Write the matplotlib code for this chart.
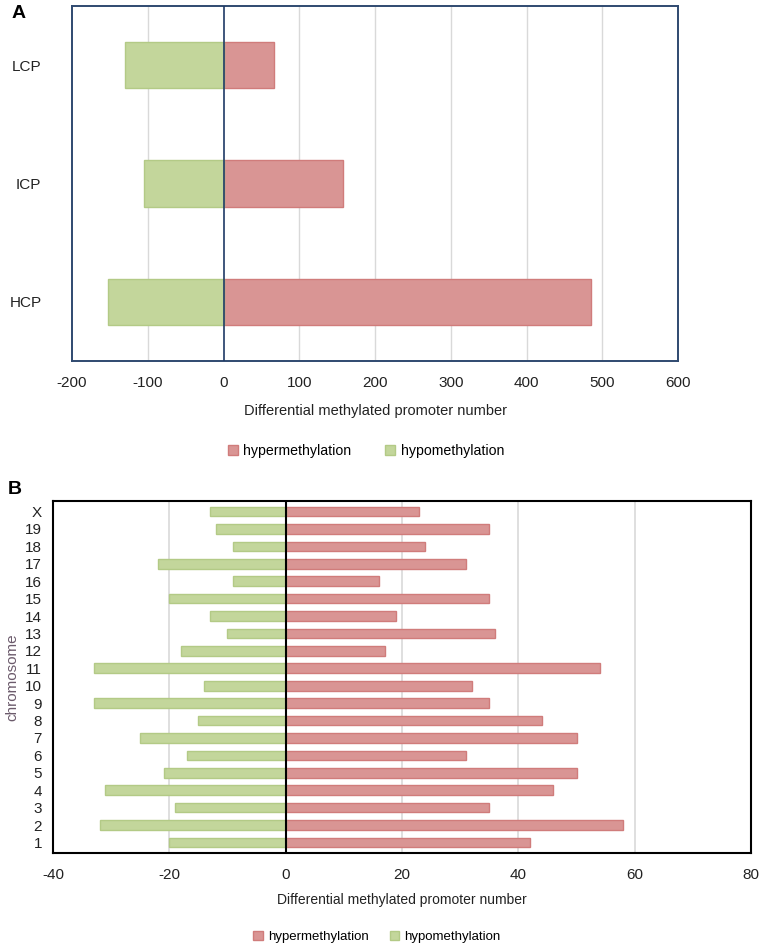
import numpy as np
import matplotlib.pyplot as plt
from matplotlib.patches import Patch

plt.rcParams['font.family'] = ['Liberation Sans', 'DejaVu Sans']
plt.rcParams['axes.unicode_minus'] = False

# panel A data
cpg_classes = ['HCP', 'ICP', 'LCP']
cpg_hyper = [485, 158, 67]
cpg_hypo = [-152, -105, -130]
a_ticks = [-200, -100, 0, 100, 200, 300, 400, 500, 600]

# panel B data
chromosomes = ['1', '2', '3', '4', '5', '6', '7', '8', '9', '10',
               '11', '12', '13', '14', '15', '16', '17', '18', '19', 'X']
chr_hyper = [42, 58, 35, 46, 50, 31, 50, 44, 35, 32,
             54, 17, 36, 19, 35, 16, 31, 24, 35, 23]
chr_hypo = [-20, -32, -19, -31, -21, -17, -25, -15, -33, -14,
            -33, -18, -10, -13, -20, -9, -22, -9, -12, -13]
b_ticks = [-40, -20, 0, 20, 40, 60, 80]

red = '#d99594'
red_edge = '#d07c7b'
green = '#c3d69b'
green_edge = '#b3ca86'
W, H = 765, 949

fig = plt.figure(figsize=(W / 100, H / 100), dpi=100)

# ---- panel A
axA = fig.add_axes([72 / W, 1 - 361 / H, 606 / W, 355 / H])
ya = np.arange(len(cpg_classes))
axA.barh(ya, cpg_hyper, height=0.39, color=red, edgecolor=red_edge, linewidth=1, zorder=3)
axA.barh(ya, cpg_hypo, height=0.39, color=green, edgecolor=green_edge, linewidth=1, zorder=3)
axA.set_xlim(-200, 600)
axA.set_ylim(-0.5, 2.5)
axA.set_xticks(a_ticks)
axA.set_yticks(ya)
axA.set_yticklabels(cpg_classes)
for t in a_ticks[1:-1]:
    if t != 0:
        axA.axvline(t, color='#d9d9d9', lw=1, zorder=1)
axA.axvline(0, color='#1f3a66', lw=1.2, zorder=4)
for s in axA.spines.values():
    s.set_color('#2f4a70')
    s.set_linewidth(1.4)
axA.tick_params(axis='both', length=0, labelsize=11, colors='#222222')
axA.tick_params(axis='y', pad=22)
axA.tick_params(axis='x', pad=11)
axA.set_xlabel('Differential methylated promoter number', fontsize=10.5, color='#222222', labelpad=10)
fig.text(12 / W, 1 - 14 / H, 'A', fontsize=14, fontweight='bold', va='center', ha='left')
fig.legend(handles=[Patch(facecolor=red, edgecolor=red_edge, label='hypermethylation'),
                    Patch(facecolor=green, edgecolor=green_edge, label='hypomethylation')],
           loc='center', bbox_to_anchor=(366 / W, 1 - 451 / H), ncol=2, frameon=False,
           fontsize=10.2, handlelength=0.7, handleheight=0.7, handletextpad=0.4, columnspacing=2.4)

# ---- panel B
axB = fig.add_axes([53 / W, 1 - 853 / H, 698 / W, 352 / H])
yb = np.arange(len(chromosomes))
axB.barh(yb, chr_hyper, height=0.55, color=red, edgecolor=red_edge, linewidth=1, zorder=3)
axB.barh(yb, chr_hypo, height=0.55, color=green, edgecolor=green_edge, linewidth=1, zorder=3)
axB.set_xlim(-40, 80)
axB.set_ylim(-0.6, len(chromosomes) - 0.4)
axB.set_xticks(b_ticks)
axB.set_yticks(yb)
axB.set_yticklabels(chromosomes)
for t in b_ticks[1:-1]:
    if t != 0:
        axB.axvline(t, color='#d9d9d9', lw=1.2, zorder=1)
axB.axvline(0, color='black', lw=1.5, zorder=4)
for s in axB.spines.values():
    s.set_color('black')
    s.set_linewidth(1.5)
axB.tick_params(axis='both', length=0, labelsize=11, colors='#222222')
axB.tick_params(axis='y', pad=8)
axB.tick_params(axis='x', pad=11)
axB.set_xlabel('Differential methylated promoter number', fontsize=10, color='#222222', labelpad=8)
axB.set_ylabel('chromosome', fontsize=11, color='#6b5a6b', labelpad=4)
fig.text(8 / W, 1 - 490 / H, 'B', fontsize=14, fontweight='bold', va='center', ha='left')
fig.legend(handles=[Patch(facecolor=red, edgecolor=red_edge, label='hypermethylation'),
                    Patch(facecolor=green, edgecolor=green_edge, label='hypomethylation')],
           loc='center', bbox_to_anchor=(377 / W, 1 - 937 / H), ncol=2, frameon=False,
           fontsize=9.5, handlelength=0.7, handleheight=0.7, handletextpad=0.4, columnspacing=1.6)

fig.savefig('out.png', dpi=100)
